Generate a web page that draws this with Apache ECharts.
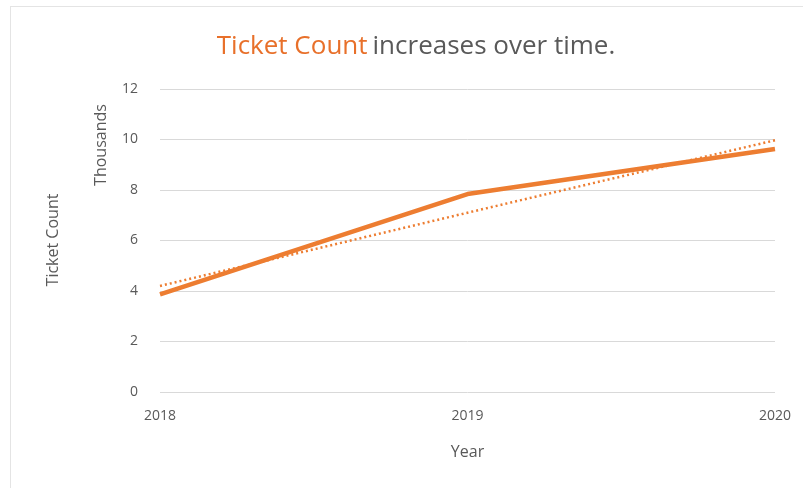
<!DOCTYPE html>
<html><head><meta charset="utf-8">
<script src="https://cdn.jsdelivr.net/npm/echarts@6/dist/echarts.min.js"></script>
<style>
html,body{margin:0;padding:0;background:#fff;}
#frame{position:absolute;left:10px;top:6px;width:793px;height:482px;border-left:1px solid #e4e4e4;border-top:1px solid #e4e4e4;box-sizing:border-box;}
#c{position:absolute;left:0;top:0;width:803px;height:488px;}
</style></head>
<body>
<div id="frame"></div>
<div id="c"></div>
<script>
const years = ['2018', '2019', '2020'];
const ticketCount = [3.87, 7.84, 9.62];
const trendValues = [4.2, 7.1, 9.97];
const yTicks = [0, 2, 4, 6, 8, 10, 12];

const orange = '#ED7D31';
const grey = '#595959';
const font = '"Open Sans", "Liberation Sans", sans-serif';

const chart = echarts.init(document.getElementById('c'));
chart.setOption({
  animation: false,
  backgroundColor: 'transparent',
  title: {
    text: '{o|Ticket Count} {g|increases over time.}',
    left: 411, top: 29, textAlign: 'center',
    textStyle: {
      fontWeight: 'normal',
      rich: {
        o: {color: '#E8702A', fontSize: 26, fontFamily: font, fontWeight: 'normal'},
        g: {color: grey, fontSize: 26, fontFamily: font, fontWeight: 'normal'}
      }
    }
  },
  grid: {left: 160, right: 28, top: 89, bottom: 96},
  xAxis: {
    type: 'category', data: years, boundaryGap: false,
    name: 'Year', nameLocation: 'middle', nameGap: 52,
    nameTextStyle: {color: grey, fontSize: 16, fontFamily: font},
    axisLine: {show: false}, axisTick: {show: false},
    axisLabel: {color: grey, fontSize: 14, fontFamily: font, margin: 17}
  },
  yAxis: {
    type: 'value', min: yTicks[0], max: yTicks[yTicks.length - 1], interval: 2,
    axisLine: {show: false}, axisTick: {show: false},
    axisLabel: {color: grey, fontSize: 14, fontFamily: font, margin: 22},
    splitLine: {lineStyle: {color: '#d9d9d9', width: 1}}
  },
  graphic: [
    {type: 'text', rotation: Math.PI / 2, x: 53, y: 240,
     style: {text: 'Ticket Count', fill: grey, font: '16px ' + font, align: 'center', verticalAlign: 'middle'}},
    {type: 'text', rotation: Math.PI / 2, x: 101, y: 145,
     style: {text: 'Thousands', fill: grey, font: '16px ' + font, align: 'center', verticalAlign: 'middle'}}
  ],
  series: [
    {type: 'line', data: ticketCount, symbol: 'none', z: 3,
     lineStyle: {color: orange, width: 4.5}},
    {type: 'line', data: trendValues, symbol: 'none', z: 2,
     lineStyle: {color: orange, width: 2.5, type: [2, 3]}}
  ]
});
</script>
</body></html>
